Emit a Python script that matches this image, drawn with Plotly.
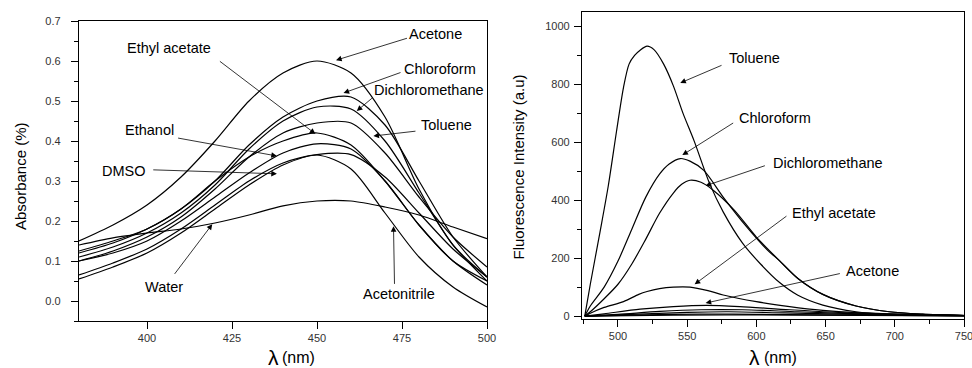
import plotly.graph_objects as go

# ---------------- Absorbance data (left) ----------------
abs_wl = [380, 390, 400, 410, 420, 430, 440, 450, 460, 470, 480, 490, 500]
abs_acetone = [0.150, 0.190, 0.240, 0.310, 0.400, 0.500, 0.570, 0.600, 0.570, 0.460, 0.280, 0.140, 0.060]
abs_chloroform = [0.120, 0.145, 0.180, 0.230, 0.300, 0.390, 0.460, 0.500, 0.510, 0.440, 0.300, 0.160, 0.060]
abs_dcm = [0.110, 0.135, 0.170, 0.220, 0.290, 0.380, 0.450, 0.485, 0.480, 0.400, 0.270, 0.140, 0.050]
abs_toluene = [0.100, 0.125, 0.160, 0.210, 0.280, 0.360, 0.420, 0.445, 0.445, 0.370, 0.260, 0.160, 0.085]
abs_ethyl_acetate = [0.125, 0.150, 0.180, 0.230, 0.300, 0.360, 0.400, 0.420, 0.390, 0.300, 0.190, 0.100, 0.040]
abs_ethanol = [0.100, 0.120, 0.150, 0.200, 0.260, 0.320, 0.370, 0.393, 0.380, 0.300, 0.190, 0.100, 0.050]
abs_dmso = [0.065, 0.095, 0.130, 0.180, 0.240, 0.300, 0.345, 0.366, 0.366, 0.310, 0.220, 0.130, 0.060]
abs_water = [0.140, 0.158, 0.170, 0.180, 0.195, 0.215, 0.238, 0.250, 0.250, 0.235, 0.215, 0.185, 0.156]
abs_acetonitrile = [0.055, 0.085, 0.120, 0.170, 0.230, 0.290, 0.340, 0.365, 0.330, 0.220, 0.110, 0.035, -0.015]

abs_series = [abs_acetone, abs_chloroform, abs_dcm, abs_toluene, abs_ethyl_acetate,
              abs_ethanol, abs_dmso, abs_water, abs_acetonitrile]
abs_names = ["Acetone", "Chloroform", "Dichloromethane", "Toluene", "Ethyl acetate",
             "Ethanol", "DMSO", "Water", "Acetonitrile"]

# ---------------- Fluorescence data (right) ----------------
fl_tol_wl = [476, 480, 487, 493, 499, 504, 508, 512, 516, 521, 526, 533, 540, 547, 555, 566, 576, 590, 603, 617, 630, 648, 672, 696, 720, 750]
fl_toluene = [0, 110, 290, 450, 640, 790, 870, 900, 918, 932, 920, 870, 795, 700, 605, 460, 360, 252, 180, 115, 72, 38, 15, 6, 3, 1]

fl_chl_wl = [476, 480, 490, 500, 510, 520, 530, 537, 545, 552, 562, 576, 593, 608, 617, 630, 648, 672, 696, 720, 750]
fl_chloroform = [0, 35, 100, 190, 300, 410, 490, 525, 544, 535, 503, 411, 308, 228, 190, 130, 75, 35, 15, 7, 2]

fl_dcm_wl = [476, 480, 490, 500, 510, 520, 530, 540, 546, 552, 560, 569, 584, 600, 617, 630, 648, 672, 696, 720, 750]
fl_dcm = [0, 15, 60, 110, 180, 265, 355, 425, 455, 469, 462, 434, 366, 273, 190, 130, 75, 35, 15, 7, 2]

fl_ea_wl = [476, 480, 490, 504, 515, 521, 530, 540, 552, 565, 576, 600, 624, 648, 672, 696, 750]
fl_ethyl_acetate = [0, 10, 30, 50, 75, 85, 95, 100, 100, 88, 73, 50, 33, 20, 12, 8, 2]

fl_ac_wl = [476, 490, 516, 540, 564, 588, 624, 672, 750]
fl_acetone = [0, 8, 24, 33, 37, 33, 22, 10, 3]

fl_eth_wl = [476, 500, 530, 560, 590, 630, 680, 750]
fl_ethanol = [0, 6, 16, 22, 22, 15, 7, 2]

fl_dmso_wl = [476, 510, 550, 580, 620, 680, 750]
fl_dmso = [0, 6, 13, 15, 11, 5, 2]

fl_acn_wl = [476, 520, 560, 600, 680, 750]
fl_acetonitrile = [0, 4, 7, 6, 3, 1]

fl_w_wl = [476, 540, 600, 750]
fl_water = [0, 3, 4, 1]

fl_series = [(fl_tol_wl, fl_toluene, "Toluene"), (fl_chl_wl, fl_chloroform, "Chloroform"),
             (fl_dcm_wl, fl_dcm, "Dichloromethane"), (fl_ea_wl, fl_ethyl_acetate, "Ethyl acetate"),
             (fl_ac_wl, fl_acetone, "Acetone"), (fl_eth_wl, fl_ethanol, "Ethanol"),
             (fl_dmso_wl, fl_dmso, "DMSO"), (fl_acn_wl, fl_acetonitrile, "Acetonitrile"),
             (fl_w_wl, fl_water, "Water")]

# ---------------- Labels (text position, arrow tail, arrow head) ----------------
abs_labels = [
    ("Acetone", 484.8, 0.668, 476.9, 0.658, 455.6, 0.602),
    ("Ethyl acetate", 406.6, 0.633, 421.0, 0.602, 449.5, 0.418),
    ("Chloroform", 486.3, 0.581, 475.0, 0.5725, 457.8, 0.520),
    ("Dichloromethane", 483.0, 0.527, 466.6, 0.510, 461.7, 0.475),
    ("Toluene", 488.2, 0.439, 479.4, 0.425, 466.6, 0.4125),
    ("Ethanol", 400.6, 0.427, 408.7, 0.408, 438.2, 0.3625),
    ("DMSO", 393.3, 0.325, 401.4, 0.328, 438.2, 0.318),
    ("Water", 405.1, 0.035, 407.8, 0.064, 419.2, 0.192),
    ("Acetonitrile", 474.0, 0.018, 472.8, 0.039, 472.5, 0.187),
]
fl_labels = [
    ("Toluene", 598.3, 892, 575.9, 868, 545.0, 805),
    ("Chloroform", 613.4, 685, 584.3, 670, 546.5, 556),
    ("Dichloromethane", 651.7, 530, 607.2, 521, 563.3, 450),
    ("Ethyl acetate", 656.1, 357, 622.8, 349, 555.4, 110),
    ("Acetone", 684.2, 157, 661.4, 148, 563.3, 45),
]

FONT = "Liberation Sans, Arial, sans-serif"
W, H = 972, 368

fig = go.Figure()
for ys, name in zip(abs_series, abs_names):
    fig.add_trace(go.Scatter(x=abs_wl, y=ys, mode="lines", name=name,
                             line=dict(color="black", width=1.2, shape="spline", smoothing=0.8),
                             xaxis="x", yaxis="y", showlegend=False))
for xs, ys, name in fl_series:
    fig.add_trace(go.Scatter(x=xs, y=ys, mode="lines", name=name,
                             line=dict(color="black", width=1.2, shape="spline", smoothing=0.8),
                             xaxis="x2", yaxis="y2", showlegend=False))

annotations = []
for (txt, tx, ty, ax, ay, hx, hy), xr, yr in [(l, "x", "y") for l in abs_labels] + [(l, "x2", "y2") for l in fl_labels]:
    annotations.append(dict(x=tx, y=ty, xref=xr, yref=yr, text=txt, showarrow=False,
                            font=dict(family=FONT, size=14.5, color="black"),
                            xanchor="center", yanchor="middle"))
    annotations.append(dict(x=hx, y=hy, xref=xr, yref=yr, ax=ax, ay=ay, axref=xr, ayref=yr,
                            text="", showarrow=True, arrowhead=2, arrowsize=1.4,
                            arrowwidth=0.8, arrowcolor="black", standoff=0, startstandoff=0))


def paper_text(px, py, text, size, angle=0):
    return dict(x=px / W, y=1 - py / H, xref="paper", yref="paper", text=text, textangle=angle,
                showarrow=False, font=dict(family=FONT, size=size, color="black"),
                xanchor="center", yanchor="middle")


# axis titles
annotations += [
    paper_text(20, 176, "Absorbance (%)", 15, -90),
    paper_text(518, 167.5, "Fluorescence Intensity (a.u)", 15, -90),
    paper_text(273.5, 357, "λ", 21),
    paper_text(298, 357, "(nm)", 16),
    paper_text(754, 357, "λ", 21),
    paper_text(780, 357, "(nm)", 16),
]

axis_common = dict(showline=True, linecolor="black", linewidth=1.3, mirror=True, ticks="outside",
                   ticklen=7, tickwidth=1.1, tickcolor="black", showgrid=False, zeroline=False,
                   tickfont=dict(family=FONT, size=11, color="#333"))

fig.update_layout(
    width=W, height=H, margin=dict(l=0, r=0, t=0, b=0, autoexpand=False),
    paper_bgcolor="white", plot_bgcolor="white",
    xaxis=dict(domain=[79 / W, 487 / W], range=[380, 500], anchor="y",
               tickvals=[400, 425, 450, 475, 500], ticklabeloverflow="allow", **axis_common),
    yaxis=dict(domain=[47 / H, 347 / H], range=[-0.05, 0.7], anchor="x",
               tickvals=[0, 0.1, 0.2, 0.3, 0.4, 0.5, 0.6, 0.7], tickformat=".1f",
               ticklabelstandoff=8,
               minor=dict(dtick=0.05, tick0=0, ticks="outside", ticklen=4, tickcolor="black"),
               **axis_common),
    xaxis2=dict(domain=[582 / W, 964 / W], range=[474, 750], anchor="y2",
                tickvals=[500, 550, 600, 650, 700, 750], ticklabeloverflow="allow",
                minor=dict(dtick=25, tick0=475, ticks="outside", ticklen=4, tickcolor="black"),
                **axis_common),
    yaxis2=dict(domain=[49 / H, 356 / H], range=[-10, 1050], anchor="x2",
                tickvals=[0, 200, 400, 600, 800, 1000], ticklabelstandoff=2,
                minor=dict(dtick=100, tick0=0, ticks="outside", ticklen=4, tickcolor="black"),
                **axis_common),
    annotations=annotations,
)

fig.write_html("out.html", config={"displayModeBar": False},
               post_script="document.body.style.margin='0';document.body.style.padding='0';"
                           "document.body.style.overflow='hidden';")
